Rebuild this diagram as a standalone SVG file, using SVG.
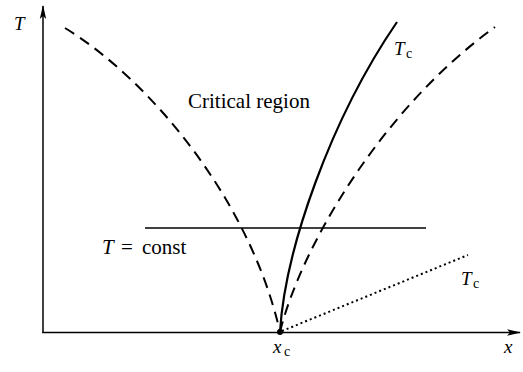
<svg xmlns="http://www.w3.org/2000/svg" width="523" height="372" viewBox="0 0 523 372">
<style>
.ax{stroke:#000;stroke-width:1.5;fill:none}
.dash{stroke:#000;stroke-width:2;fill:none;stroke-dasharray:11 7}
.solid{stroke:#000;stroke-width:2.2;fill:none}
.thin{stroke:#000;stroke-width:1.4;fill:none}
.dot{stroke:#000;stroke-width:2;fill:none;stroke-dasharray:2 3}
.lbl{font-family:'Liberation Serif','DejaVu Serif','Times New Roman',Times,serif;fill:#000}
.it{font-style:italic}
</style>
<defs>
<marker id="arr" markerWidth="14" markerHeight="8" refX="13" refY="4" orient="auto" markerUnits="userSpaceOnUse">
<path d="M0,0.8 L14,4 L0,7.2 L3,4 Z" fill="#000"/>
</marker>
</defs>
<rect width="523" height="372" fill="#fff"/>
<g id="axes">
<line class="ax" x1="43" y1="333" x2="43" y2="6" marker-end="url(#arr)"/>
<line class="ax" x1="42.25" y1="332.5" x2="520" y2="332.5" marker-end="url(#arr)"/>
</g>
<g id="curves">
<path class="dash" d="M65,28 C150,80 250,200 280,332"/>
<path class="dash" d="M280,332 C300,250 380,110 495,27"/>
<path class="solid" d="M280,332 C285,250 330,120 397,22"/>
<line class="thin" x1="145" y1="228" x2="426" y2="228"/>
<line class="dot" x1="282" y1="331" x2="468" y2="255"/>
<circle cx="280" cy="332" r="3" fill="#000"/>
</g>
<g id="labels">
<text class="lbl it" x="14" y="30" font-size="19">T</text>
<text class="lbl" x="188" y="108" font-size="21">Critical region</text>
<text class="lbl it" x="394" y="55" font-size="19">T</text>
<text class="lbl" x="406" y="58" font-size="14">c</text>
<text class="lbl it" x="102" y="254" font-size="21">T</text>
<text class="lbl" x="121" y="254" font-size="21">=</text>
<text class="lbl" x="142" y="254" font-size="21">const</text>
<text class="lbl it" x="461" y="285" font-size="19">T</text>
<text class="lbl" x="473" y="288" font-size="14">c</text>
<text class="lbl it" x="273" y="353" font-size="19">x</text>
<text class="lbl" x="284" y="356" font-size="14">c</text>
<text class="lbl it" x="504" y="353" font-size="19">x</text>
</g>
</svg>
